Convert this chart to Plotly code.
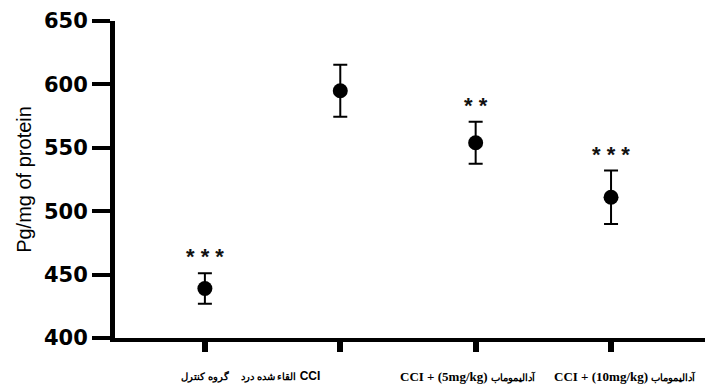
import plotly.graph_objects as go

categories = ["گروه کنترل", "القاء شده درد CCI", "CCI + (5mg/kg) آدالیموماب", "CCI + (10mg/kg) آدالیموماب"]
P = '<span style="font-size:9.5px"><b>%s</b></span>'
label_html = [P % "گروه کنترل",
              (P % "القاء شده درد") + "\u00a0<b>CCI</b>",
              "<b>CCI + (5mg/kg)</b>\u00a0" + (P % "آدالیموماب"),
              "<b>CCI + (10mg/kg)</b>\u00a0" + (P % "آدالیموماب")]
means = [439, 595, 554, 511]
errors = [12, 20.5, 16.5, 21]
stars = ["* * *", "", "* *", "* * *"]
yticks = [400, 450, 500, 550, 600, 650]

xs = list(range(len(categories)))

fig = go.Figure()
fig.add_trace(go.Scatter(
    x=xs, y=means, mode="markers",
    marker=dict(color="black", size=15),
    error_y=dict(type="data", array=errors, visible=True, color="black", thickness=2, width=7),
    showlegend=False, hoverinfo="skip",
))

for x, m, e, s in zip(xs, means, errors, stars):
    if s:
        fig.add_annotation(x=x, y=m + e, xref="x", yref="y", text="<b>" + s + "</b>", showarrow=False,
                           yanchor="bottom", yshift=2,
                           font=dict(family="Liberation Sans", size=22, color="#111"))

label_fonts = ["Liberation Sans", "Liberation Sans", "Liberation Serif", "Liberation Serif"]
label_sizes = [11, 12, 13, 13]
label_anchor = ["center", "right", "center", "center"]
label_shift = [0, -18, -8, 14]
for x, t, f, fs, a, sh in zip(xs, label_html, label_fonts, label_sizes, label_anchor, label_shift):
    fig.add_annotation(x=x, y=0, xref="x", yref="paper", text=t, showarrow=False,
                       xanchor=a, yanchor="middle", yshift=-38, xshift=sh,
                       font=dict(family=f, size=fs, color="black"))

fig.update_layout(
    width=705, height=385,
    margin=dict(l=115, r=0, t=21, b=47),
    paper_bgcolor="white", plot_bgcolor="white",
    xaxis=dict(range=[-0.664, 3.694], tickvals=xs, ticktext=[""] * len(xs),
               showline=True, linecolor="black", linewidth=4,
               ticks="outside", ticklen=10, tickwidth=6, tickcolor="black",
               showgrid=False, zeroline=False),
    yaxis=dict(range=[400, 650], tickvals=yticks, ticktext=["<b>%d</b>" % v for v in yticks],
               showline=True, linecolor="black", linewidth=5,
               ticks="outside", ticklen=18, tickwidth=4, tickcolor="black",
               showgrid=False, zeroline=False,
               tickfont=dict(family="DejaVu Sans", size=21, color="black"),
               title=dict(text="Pg/mg of protein", font=dict(family="Liberation Sans", size=20, color="black"),
                          standoff=8)),
)

fig.write_html("out.html")
